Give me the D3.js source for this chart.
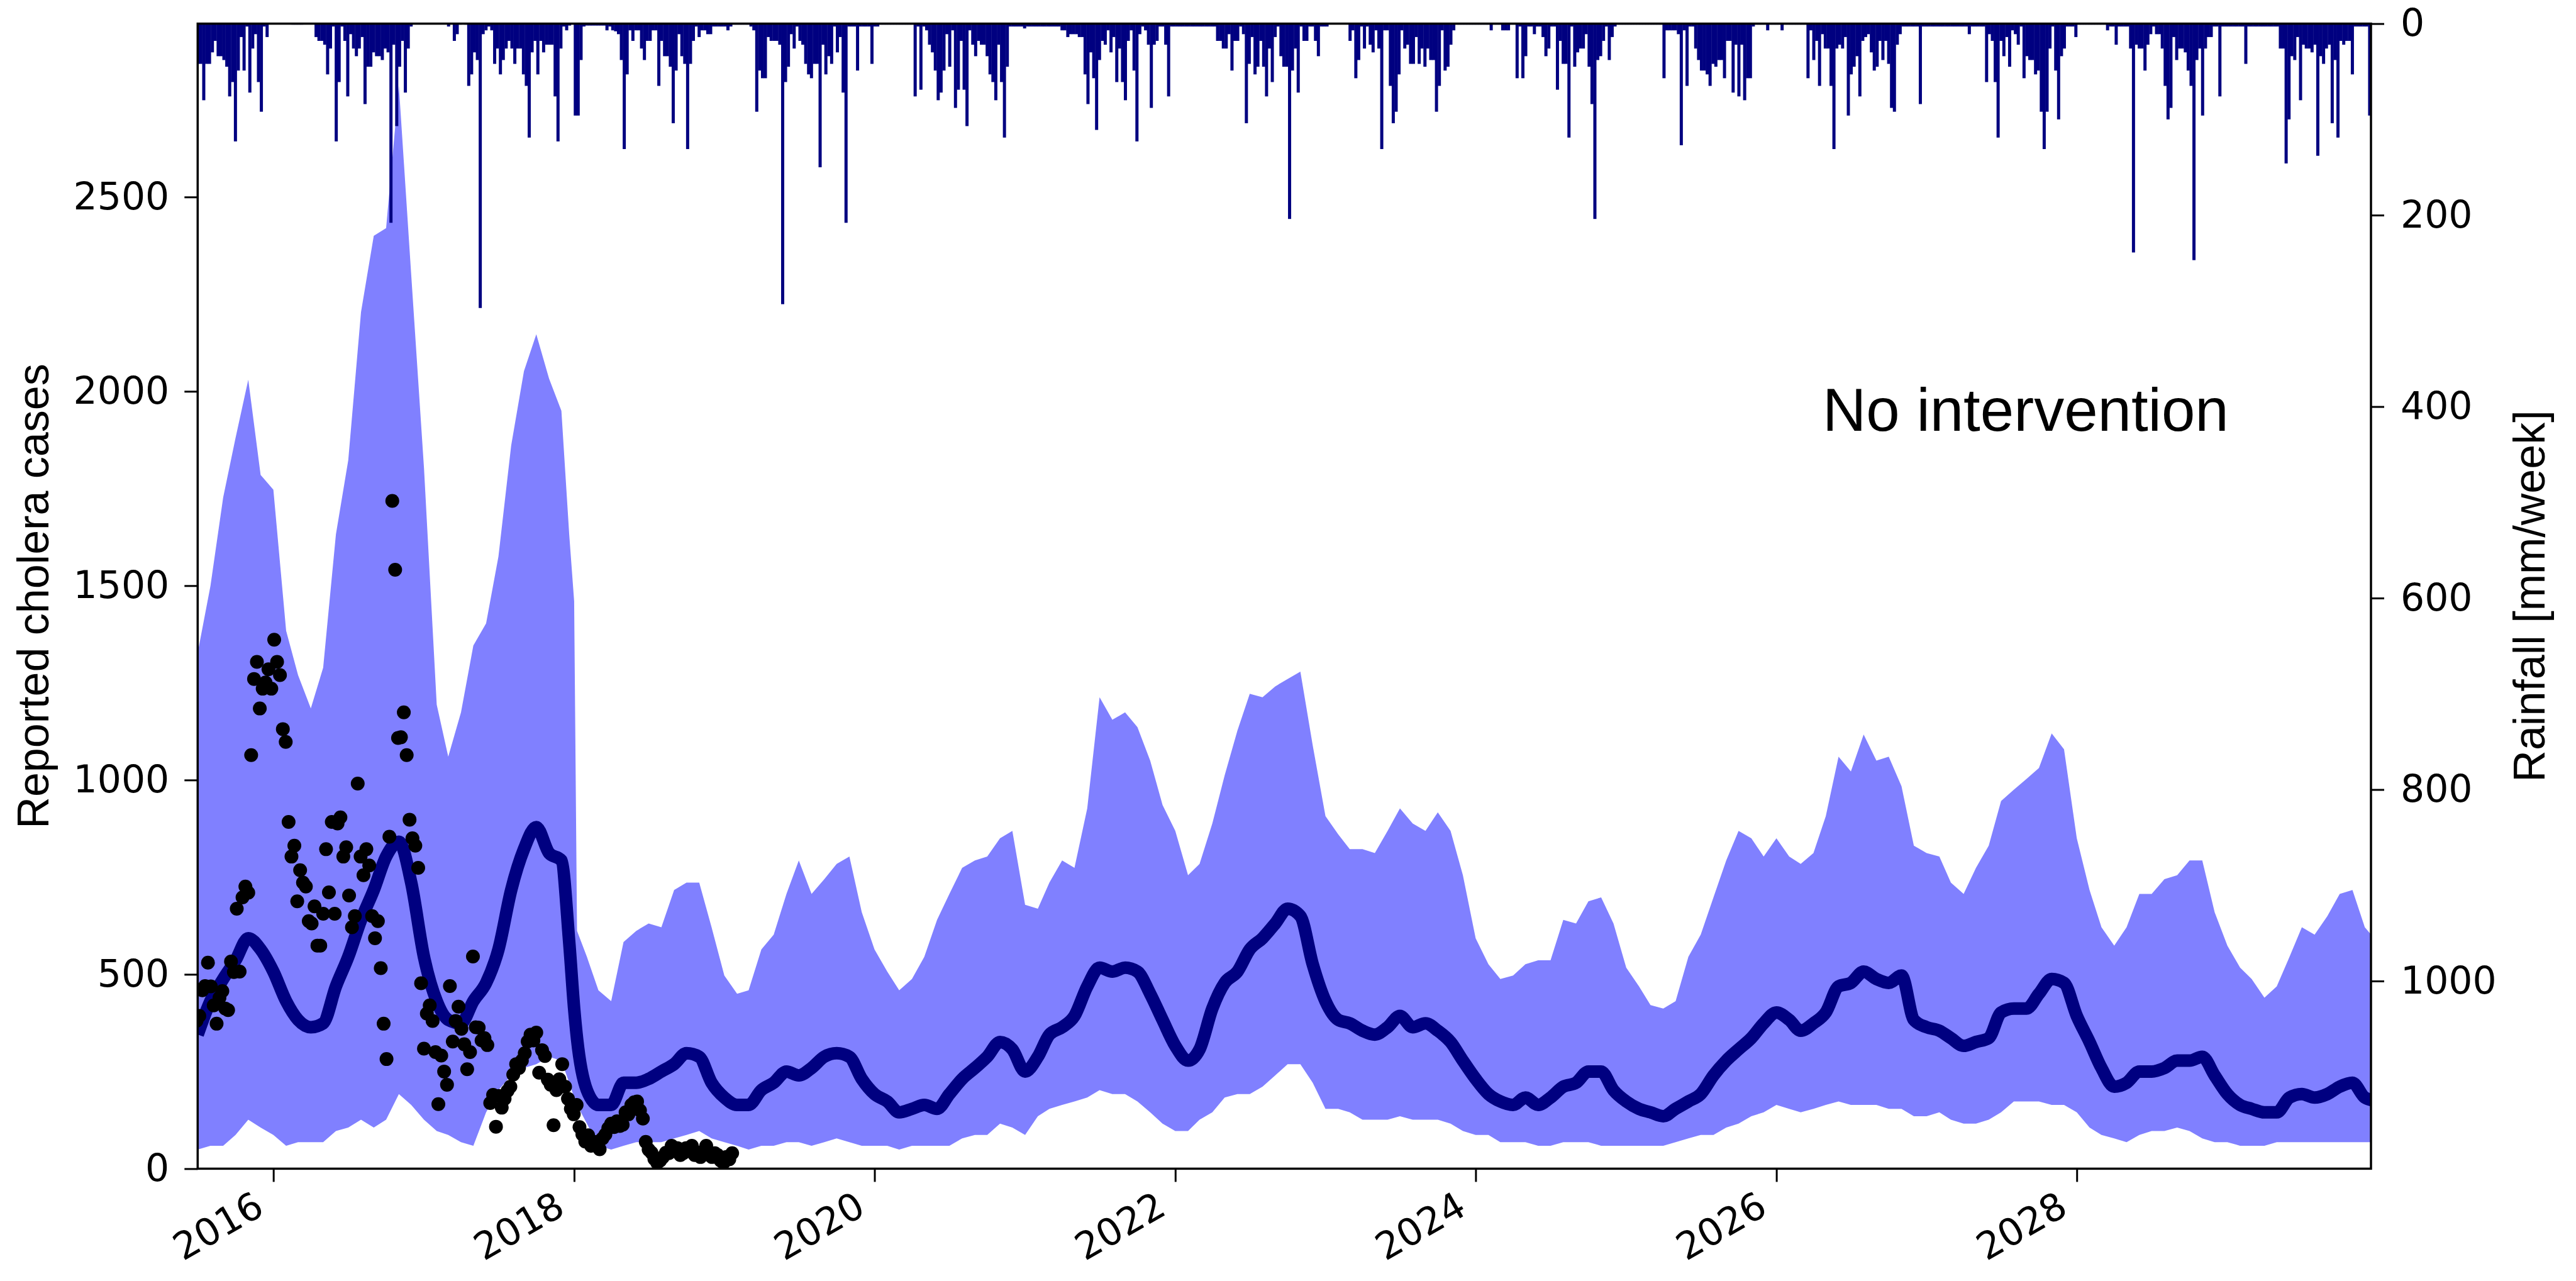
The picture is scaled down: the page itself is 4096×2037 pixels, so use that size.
<!DOCTYPE html>
<html>
<head>
<meta charset="utf-8">
<script src="https://cdn.jsdelivr.net/npm/d3@7"></script>
<style>
  body { margin: 0; background: #fff; }
  svg { display: block; }
</style>
</head>
<body>
<div id="chart"></div>
<script>
// Weekly rainfall [mm/week], one value per week from 28 Jun 2015
const rainfall = [
  42,42,80,42,42,30,18,34,34,38, 45,76,61,123,49,14,49,3,72,26,
  11,61,92,3,14,0,0,0,0,0, 0,0,0,1,1,1,1,0,0,0,
  0,14,18,18,22,53,26,3,123,61, 3,18,76,11,26,34,26,14,84,45,
  45,30,34,34,38,26,30,208,22,107, 45,18,72,26,3,0,0,0,0,0,
  0,0,0,0,0,0,0,3,0,18, 11,1,0,1,65,53,30,38,297,11,
  7,3,7,42,26,53,38,26,18,26, 42,26,26,53,65,119,30,18,53,18,
  30,22,22,22,76,123,26,3,7,2, 1,96,96,38,3,2,2,2,2,2,
  2,2,7,3,7,8,11,38,131,53, 7,18,7,7,26,38,18,18,7,7,
  65,18,34,34,45,104,49,11,34,42, 131,42,18,3,14,7,7,11,11,3,
  3,3,3,3,7,3,1,1,1,1, 1,1,3,7,92,49,57,57,14,18,
  18,18,22,293,61,45,11,26,3,18, 22,42,53,57,42,42,150,22,53,34,
  42,3,30,14,72,208,3,3,3,49, 3,3,3,3,42,3,3,1,1,1,
  1,1,1,1,1,1,1,1,1,76, 3,69,3,7,22,30,49,80,72,49,
  11,45,7,88,69,18,69,107,7,22, 34,18,22,22,34,53,61,80,22,61,
  119,45,3,3,3,3,3,5,3,3, 3,3,3,3,3,3,3,3,3,3,
  7,7,14,11,11,11,14,14,53,84, 30,57,111,38,18,22,7,30,14,61,
  26,61,80,18,7,49,123,11,3,7, 22,88,22,18,3,3,22,76,3,3,
  3,3,3,3,3,3,3,3,3,3, 3,3,3,3,18,18,26,26,11,49,
  18,18,3,11,104,42,14,53,45,18, 45,76,26,61,14,3,34,45,45,204,
  49,26,72,3,18,18,3,3,18,34, 3,3,3,0,0,0,0,0,0,0,
  18,7,57,38,3,26,3,22,30,7, 26,131,7,7,65,104,92,53,7,26,
  22,42,42,14,42,26,45,26,38,38, 92,65,7,49,45,22,7,1,1,1,
  1,1,1,1,1,1,1,1,1,7, 1,1,1,7,7,7,1,1,57,3,
  57,34,3,3,11,3,3,14,34,26, 3,3,69,18,42,42,119,3,45,30,
  26,26,11,45,84,204,38,34,18,3, 38,14,3,1,1,1,1,1,1,1,
  1,1,1,1,1,1,1,1,1,57, 7,7,7,7,11,127,7,65,3,3,
  26,38,49,49,53,65,42,45,38,38, 57,18,18,72,22,76,22,80,57,57,
  3,1,1,1,1,7,1,1,1,1, 7,1,1,1,1,1,1,1,1,57,
  7,38,18,65,11,26,26,65,131,26, 22,26,14,96,53,45,34,76,18,14,
  11,30,49,45,18,38,18,42,88,92, 22,11,3,3,3,3,3,3,84,3,
  3,3,3,3,3,3,3,3,3,3, 3,3,3,3,3,11,3,3,3,3,
  3,61,11,18,61,119,18,34,14,45, 7,11,22,3,57,34,38,38,53,49,
  92,131,92,26,3,49,100,34,26,3, 3,3,14,1,1,1,1,1,1,1,
  1,1,1,7,3,3,22,3,3,3, 3,26,239,22,26,26,49,22,11,3,
  11,11,26,65,100,88,14,38,26,26, 30,49,65,247,38,26,96,26,14,14,
  3,3,76,3,3,3,3,3,3,3, 3,42,3,3,3,3,3,3,3,3,
  3,3,3,26,26,146,100,34,38,14, 80,22,26,26,30,22,138,34,42,26,
  22,104,38,119,18,22,18,18,53,3, 3,3,3,3,96
];

// Reported weekly cholera cases, one value per week from 28 Jun 2015
const reported = [
  380,393,459,470,530,469,420,373,440,457, 412,408,533,506,669,507,698,726,710,1064,
  1260,1304,1184,1235,1251,1285,1235,1361,1304,1270, 1131,1098,892,803,831,688,768,736,726,637,
  631,675,574,574,656,822,711,892,656,888, 904,803,827,703,621,650,991,803,755,822,
  780,650,593,637,516,373,282,854,1718,1541, 1108,1110,1174,1064,898,850,831,774,477,309,
  399,420,380,300,166,291,250,216,470,327, 380,417,360,320,256,300,546,364,363,330,
  336,318,169,190,108,187,157,180,200,211, 242,269,259,278,297,327,345,330,350,247,
  305,290,229,216,112,202,230,269,211,180, 154,140,164,107,88,70,86,59,68,69,
  50,78,88,104,116,107,122,110,113,145, 140,164,171,173,150,129,69,49,41,25,
  15,21,30,41,40,59,45,53,35,40, 53,45,59,35,40,30,45,59,35,30,
  40,35,21,15,30,24,40
];

// Model output, one value per month from Jul 2015 to Jan 2030
const upper = [
  1327,1499,1727,1880,2030,1785,1747,1384,1270,1184, 1289,1632,1823,2204,2400,2420,2786,2300,1804,1194,
  1060,1174,1346,1403,1575,1861,2052,2147,2033,1950, 1460,545,459,431,583,612,631,621,717,736,
  736,621,497,450,459,564,602,707,793,707, 745,784,803,660,564,507,459,488,545,640,
  707,774,793,803,850,869,679,669,736,793, 774,927,1213,1155,1174,1136,1050,936,869,755,
  784,888,1012,1127,1222,1213,1241,1260,1279,1089, 907,860,822,822,812,869,927,888,869,917,
  869,755,593,526,488,497,526,536,536,640, 631,688,698,631,517,469,421,412,431,545,
  602,698,793,869,850,803,850,803,784,812, 907,1060,1022,1117,1050,1060,984,831,812,803,
  736,707,774,831,946,975,1003,1031,1120,1079, 850,717,621,574,621,707,707,745,755,793,
  793,660,574,517,488,440,469,545,621,602, 650,707,717,621,583,583
];
const lower = [
  49,59,59,87,126,106,87,59,68,68, 68,97,106,126,106,126,192,164,126,97,
  87,68,59,145,202,240,259,269,288,278, 183,116,59,49,59,68,68,68,78,87,
  97,78,68,59,49,59,59,68,68,59, 68,78,68,59,59,59,49,59,59,59,
  59,78,87,87,116,106,87,135,154,164, 173,183,202,192,192,173,145,116,97,97,
  126,145,183,192,192,211,240,269,269,221, 154,154,145,126,126,126,135,126,126,126,
  116,97,87,87,68,68,68,59,59,68, 68,68,59,59,59,59,59,59,68,78,
  87,87,106,116,135,145,164,154,145,154, 164,173,164,164,164,154,154,135,135,145,
  126,116,116,126,145,173,173,173,164,164, 145,106,87,78,68,87,97,97,106,97,
  78,68,68,59,59,59,68,68,68,68, 68,68,68,68,68,68
];
const median = [
  345,431,488,536,593,564,507,431,383,364, 374,469,545,640,717,803,841,736,545,431,
  383,374,431,478,564,717,822,879,812,793, 412,202,164,164,221,221,231,250,269,297,
  288,221,183,164,164,202,221,250,240,259, 288,297,288,231,192,173,145,154,164,154,
  192,231,259,288,326,307,250,288,345,364, 393,469,517,507,517,507,450,383,316,278,
  307,412,478,507,564,593,631,669,650,526, 431,383,374,355,345,364,393,364,374,355,
  326,278,231,192,173,164,183,164,183,211, 221,250,250,202,173,154,145,135,154,173,
  192,240,278,307,336,374,402,383,355,374, 402,469,478,507,488,478,497,383,364,355,
  336,316,326,336,402,412,412,450,488,478, 393,326,259,211,221,250,250,259,278,278,
  288,240,192,164,154,145,145,183,192,183, 192,211,221,183,173,173
];
// extra readings around the sharp drop at the turn of 2018
const dropDates = ["2017-12-20", "2018-01-08"];
const dropUpper = [1632, 612];
const dropLower = [221, 164];
const dropMedian = [583, 335];

const caseTicks = [0, 500, 1000, 1500, 2000, 2500];
const rainTicks = [0, 200, 400, 600, 800, 1000];
const yearTicks = [2016, 2018, 2020, 2022, 2024, 2026, 2028];

// Layout
const W = 4096, H = 2037;
const plotLeft = 314.3, plotRight = 3770, plotTop = 37.6, plotBottom = 1858.4;
const navy = "#000080";

const svg = d3.select("#chart").append("svg")
  .attr("width", W)
  .attr("height", H);

const x = d3.scaleTime()
  .domain([new Date(2015, 6, 1), new Date(2029, 11, 16)])
  .range([plotLeft, plotRight]);
const y = d3.scaleLinear().domain([0, 2946]).range([plotBottom, plotTop]);
const yRain = d3.scaleLinear().domain([0, 1196]).range([plotTop, plotBottom]);

svg.append("defs").append("clipPath").attr("id", "plot")
  .append("rect")
  .attr("x", plotLeft).attr("y", plotTop)
  .attr("width", plotRight - plotLeft).attr("height", plotBottom - plotTop);

const plot = svg.append("g").attr("clip-path", "url(#plot)");

// monthly model knots + the extra ones
const months = d3.timeMonth.range(new Date(2015, 6, 1), new Date(2030, 0, 2));
const model = months.map((d, i) => ({date: d, upper: upper[i], lower: lower[i], median: median[i]}));
dropDates.forEach((s, i) => {
  const p = s.split("-").map(Number);
  model.push({date: new Date(p[0], p[1] - 1, p[2]), upper: dropUpper[i], lower: dropLower[i], median: dropMedian[i]});
});
model.sort((a, b) => a.date - b.date);

// band
plot.append("path")
  .datum(model)
  .attr("fill", "#8080ff")
  .attr("d", d3.area()
    .x(d => x(d.date))
    .y0(d => y(d.lower))
    .y1(d => y(d.upper)));

// median line
plot.append("path")
  .datum(model)
  .attr("fill", "none")
  .attr("stroke", navy)
  .attr("stroke-width", 20)
  .attr("stroke-linejoin", "round")
  .attr("d", d3.line()
    .curve(d3.curveMonotoneX)
    .x(d => x(d.date))
    .y(d => y(d.median)));

// reported cases
const weekStart = new Date(2015, 5, 28);
const weekDate = i => d3.timeWeek.offset(weekStart, i);

plot.selectAll("circle.obs")
  .data(reported)
  .enter().append("circle")
  .attr("class", "obs")
  .attr("cx", (d, i) => x(weekDate(i)))
  .attr("cy", d => y(d))
  .attr("r", 11)
  .attr("fill", "#000");

// rainfall bars hanging from the top
plot.selectAll("rect.rain")
  .data(rainfall)
  .enter().append("rect")
  .attr("class", "rain")
  .attr("x", (d, i) => x(weekDate(i)))
  .attr("width", (d, i) => x(weekDate(i + 1)) - x(weekDate(i)) + 0.4)
  .attr("y", yRain(0))
  .attr("height", d => yRain(d) - yRain(0))
  .attr("fill", navy);

// axes
const font = "DejaVu Sans, sans-serif";

const axL = svg.append("g")
  .attr("transform", `translate(${plotLeft},0)`)
  .call(d3.axisLeft(y).tickValues(caseTicks).tickSize(21).tickPadding(24).tickFormat(d3.format("d")));
const axR = svg.append("g")
  .attr("transform", `translate(${plotRight},0)`)
  .call(d3.axisRight(yRain).tickValues(rainTicks).tickSize(21).tickPadding(26).tickFormat(d3.format("d")));
const axB = svg.append("g")
  .attr("transform", `translate(0,${plotBottom})`)
  .call(d3.axisBottom(x).tickValues(yearTicks.map(yr => new Date(yr, 0, 1))).tickSize(21).tickFormat(d3.timeFormat("%Y")));

[axL, axR, axB].forEach(ax => {
  ax.select(".domain").remove();
  ax.selectAll(".tick line").attr("stroke", "#000").attr("stroke-width", 3);
  ax.selectAll(".tick text")
    .attr("fill", "#000")
    .style("font-family", font)
    .style("font-size", "60px");
});

axB.selectAll(".tick text")
  .attr("x", 0).attr("y", 0).attr("dy", 0)
  .attr("text-anchor", "end")
  .attr("transform", "translate(-12,71) rotate(-30)");

// frame
svg.append("rect")
  .attr("x", plotLeft).attr("y", plotTop)
  .attr("width", plotRight - plotLeft).attr("height", plotBottom - plotTop)
  .attr("fill", "none")
  .attr("stroke", "#000")
  .attr("stroke-width", 3.5);

// labels
const labelFont = "Liberation Sans, Arial, sans-serif";
svg.append("text")
  .attr("transform", `translate(77,${(plotTop + plotBottom) / 2}) rotate(-90)`)
  .attr("text-anchor", "middle")
  .style("font-family", labelFont)
  .style("font-size", "70px")
  .text("Reported cholera cases");

svg.append("text")
  .attr("transform", `translate(4046,${(plotTop + plotBottom) / 2}) rotate(-90)`)
  .attr("text-anchor", "middle")
  .style("font-family", labelFont)
  .style("font-size", "70px")
  .text("Rainfall [mm/week]");

svg.append("text")
  .attr("x", 2898)
  .attr("y", 685)
  .style("font-family", labelFont)
  .style("font-size", "96px")
  .text("No intervention");
</script>
</body>
</html>
